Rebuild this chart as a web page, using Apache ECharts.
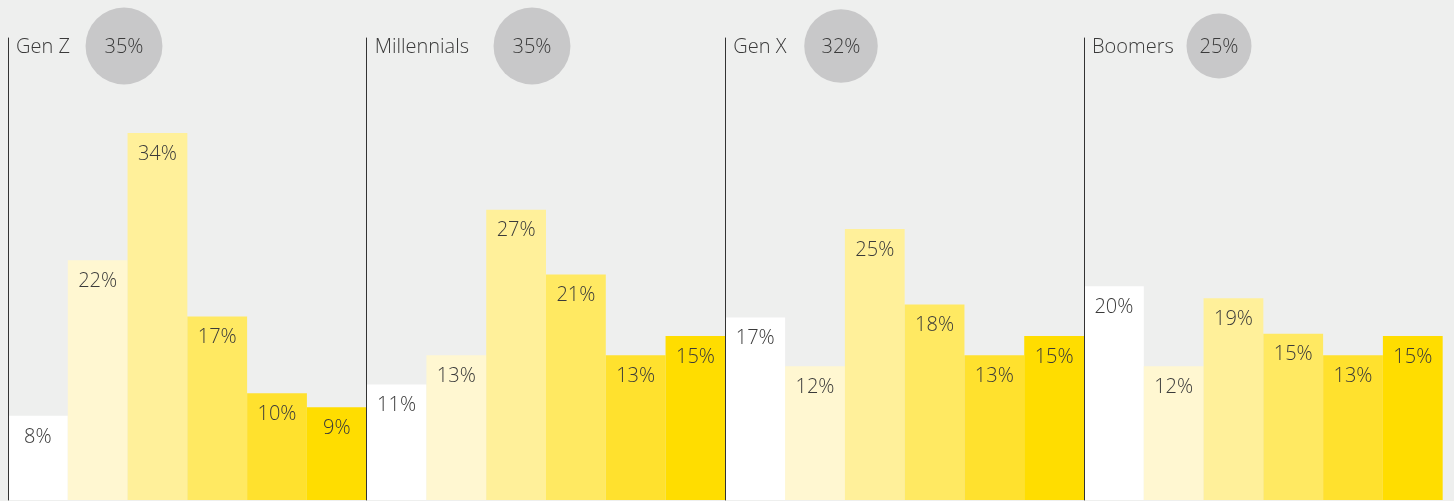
<!DOCTYPE html>
<html><head><meta charset="utf-8">
<script src="https://cdn.jsdelivr.net/npm/echarts@6/dist/echarts.min.js"></script>
<style>html,body{margin:0;padding:0;background:#eeefee}#c{width:1454px;height:501px}</style>
</head><body><div id="c"></div>
<script>
// ---- data ----
const generations = ['Gen Z', 'Millennials', 'Gen X', 'Boomers'];
const headlineShares = [35, 35, 32, 25];
const segments = ['Segment 1', 'Segment 2', 'Segment 3', 'Segment 4', 'Segment 5', 'Segment 6'];
const genZ = [7.8, 22.2, 34.0, 17.0, 9.9, 8.6];
const millennials = [10.7, 13.4, 26.9, 20.9, 13.4, 15.2];
const genX = [16.9, 12.4, 25.1, 18.1, 13.4, 15.2];
const boomers = [19.8, 12.4, 18.7, 15.4, 13.4, 15.2];

// ---- styling / layout ----
const seriesData = [genZ, millennials, genX, boomers];
const barColors = ['#ffffff', '#fff7d1', '#fff09a', '#ffe962', '#ffe12e', '#ffdd00'];
const FONT = '"Open Sans", "Lato", sans-serif';
const TXT = '#3a3a3a';
const panelLeft0 = 8, panelW = 358.67;
const circleCx = [124, 532, 841, 1219];
const circleCy = 46;

const chart = echarts.init(document.getElementById('c'), null, {renderer: 'canvas'});
const grid = [], xAxis = [], yAxis = [], series = [], graphic = [];
generations.forEach((g, i) => {
  const left = panelLeft0 + i * panelW;
  grid.push({left: left, width: panelW, top: 38, bottom: 1, containLabel: false});
  xAxis.push({type: 'category', gridIndex: i, data: segments, show: false});
  yAxis.push({type: 'value', gridIndex: i, min: 0, max: 42.8, z: 10,
    splitLine: {show: false}, axisLabel: {show: false}, axisTick: {show: false},
    axisLine: {show: true, lineStyle: {color: '#333333', width: 1}}});
  series.push({
    type: 'bar', name: g, xAxisIndex: i, yAxisIndex: i, data: seriesData[i],
    barCategoryGap: '0%',
    itemStyle: {color: p => barColors[p.dataIndex]},
    label: {show: true, position: 'insideTop', distance: 11,
      formatter: p => Math.round(p.value) + '%',
      fontFamily: FONT, fontSize: 20, fontWeight: 300, color: TXT}
  });
  graphic.push({type: 'text', x: left + 8, y: 47, z: 2,
    style: {text: g, fontFamily: FONT, fontSize: 20, fontWeight: 300, fill: TXT,
      align: 'left', verticalAlign: 'middle'}});
  const r = 6.5 * Math.sqrt(headlineShares[i]);
  graphic.push({type: 'circle', shape: {cx: circleCx[i], cy: circleCy, r: r},
    style: {fill: '#c8c8c9'}, z: 1});
  graphic.push({type: 'text', x: circleCx[i], y: circleCy + 1, z: 2,
    style: {text: headlineShares[i] + '%', fontFamily: FONT, fontSize: 20, fontWeight: 300,
      fill: TXT, align: 'center', verticalAlign: 'middle'}});
});

chart.setOption({
  backgroundColor: '#eeefee',
  animation: false,
  grid, xAxis, yAxis, series, graphic
});
</script></body></html>
